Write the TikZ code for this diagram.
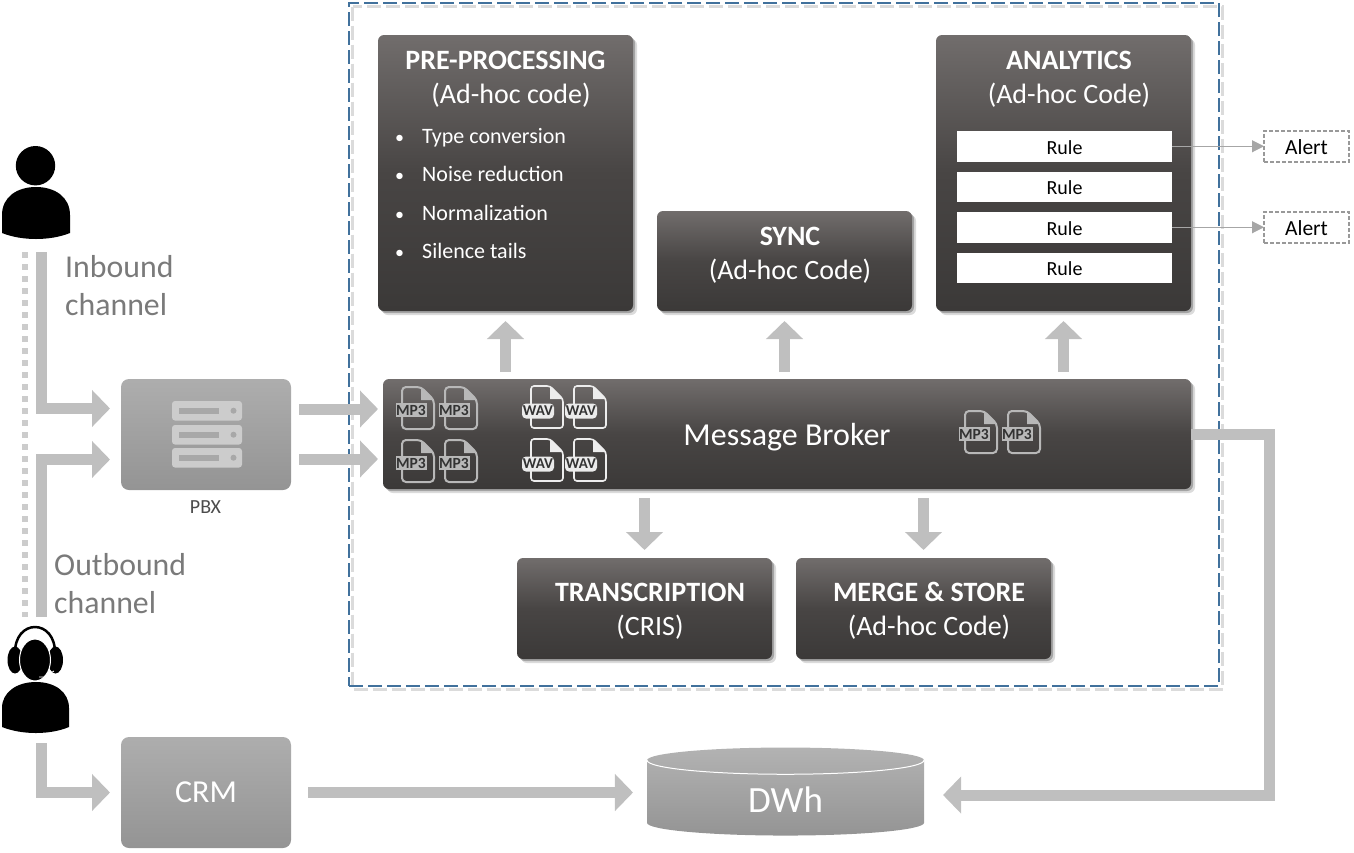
\documentclass[tikz,border=0pt]{standalone}
\usepackage{fontspec}
\setmainfont{Carlito}
\usetikzlibrary{arrows.meta,positioning,calc,shadows,shapes.geometric}
\definecolor{framecol}{HTML}{41719C}
\definecolor{arrgray}{HTML}{BFBFBF}
\definecolor{labgray}{HTML}{7A7A7A}
\definecolor{darktop}{HTML}{716D6C}
\definecolor{darkmid}{HTML}{484544}
\definecolor{darkbot}{HTML}{3B3938}
\newcommand{\fsz}[1]{\fontsize{#1}{#1}\selectfont}
\newcommand{\bul}{\makebox[27pt][l]{\fsz{18}•}}

\begin{document}
\begin{tikzpicture}[x=1pt,y=-1pt,
 softshadow/.style={drop shadow={shadow xshift=2pt,shadow yshift=-2pt,opacity=.25,fill=black},drop shadow={shadow xshift=4pt,shadow yshift=-4pt,opacity=.14,fill=black}},
 darkbox/.style={rectangle,rounded corners=6pt,anchor=north west,inner sep=0pt,outer sep=0pt,softshadow,top color=darktop,bottom color=darkbot,middle color=darkmid,text=white},
 greybox/.style={rectangle,rounded corners=8pt,anchor=north west,inner sep=0pt,outer sep=0pt,minimum width=170pt,minimum height=111pt,top color=black!32,bottom color=black!42,text=white,font=\fsz{32}},
 boxtitle/.style={anchor=north,align=center,text=white,inner sep=0pt,font=\fsz{28},text height=20pt,text depth=7pt},
 itemtext/.style={anchor=base west,text=white,inner sep=0pt,font=\fsz{22}},
 rulebox/.style={rectangle,fill=white,inner sep=0pt,outer sep=0pt,minimum width=215pt,minimum height=30.5pt,font=\fsz{20},text=black,text height=16pt,text depth=0pt},
 alertbox/.style={rectangle,draw=black!40,dash pattern=on 4pt off 2pt,line width=1.5pt,fill=white,inner sep=0pt,outer sep=0pt,minimum width=85pt,minimum height=31pt,font=\fsz{21.5},text=black,text height=16pt,text depth=0pt},
 bigarr/.style={-{Triangle[length=18pt,width=36pt]},line width=11pt,draw=arrgray},
 thinarr/.style={-{Triangle[length=12pt,width=12pt]},line width=1pt,draw=black!35},
 pics/mpfile/.style={code={
  \draw[black!28,line width=2pt,rounded corners=4pt] (0,0) -- (19,0) -- (32,13) -- (32,42) -- (0,42) -- cycle;
  \fill[black!28] (19,0) -- (32,13) -- (19,13) -- cycle;
  \node[rectangle,fill=black!28,text=black!80,inner sep=0pt,minimum width=31pt,minimum height=14pt,font=\fsz{15.5}\bfseries] (-tag) at (9,23) {MP3};
 }},
 pics/wavfile/.style={code={
  \draw[black!7,line width=1.6pt,rounded corners=3pt] (0,0) -- (19,0) -- (32,13) -- (32,42) -- (0,42) -- cycle;
  \fill[black!7] (19,0) -- (32,13) -- (19,13) -- cycle;
  \node[rectangle,rounded corners=4pt,fill=black!8,text=black!80,inner sep=0pt,minimum width=32pt,minimum height=15pt,font=\fsz{15}\bfseries] (-tag) at (7,25) {WAV};
 }}]
\useasboundingbox (0,0) rectangle (1354,852);

% dashed frame
\draw[black!14,line width=3pt,dash pattern=on 14pt off 5pt] (352.5,6.5) rectangle (1222.5,689.5);
\node[rectangle,draw=framecol,line width=1.5pt,dash pattern=on 14pt off 5pt,anchor=north west,inner sep=0pt,outer sep=0pt,minimum width=870pt,minimum height=683pt] (frame) at (349,3) {};

% top row
\node[darkbox,minimum width=255pt,minimum height=276pt] (pre) at (378,35) {};
\node[darkbox,minimum width=255pt,minimum height=100pt] (sync) at (657,211) {};
\node[darkbox,minimum width=255pt,minimum height=276pt] (ana) at (936,35) {};
\node[darkbox,minimum width=808pt,minimum height=110pt,font=\fsz{32},text height=22pt,text depth=0pt] (broker) at (383,379) {Message Broker};
\node[darkbox,minimum width=255pt,minimum height=101pt] (trans) at (517,558) {};
\node[darkbox,minimum width=255pt,minimum height=101pt] (merge) at (796,558) {};

\node[boxtitle] (pretitle) at (505.5,49) {\bfseries PRE-PROCESSING};
\node[boxtitle,below=7pt of pretitle,xshift=5.5pt] (presub) {(Ad-hoc code)};
\node[boxtitle,xshift=5.5pt] (synctitle) at (784.5,225) {\bfseries SYNC};
\node[boxtitle,below=7pt of synctitle] (syncsub) {(Ad-hoc Code)};
\node[boxtitle,xshift=5.5pt] (anatitle) at (1063.5,49) {\bfseries ANALYTICS};
\node[boxtitle,below=7pt of anatitle] (anasub) {(Ad-hoc Code)};
\node[boxtitle,xshift=5.5pt] (transtitle) at (644.5,581) {\bfseries TRANSCRIPTION};
\node[boxtitle,below=7pt of transtitle] (transsub) {(CRIS)};
\node[boxtitle,xshift=5.5pt] (mergetitle) at (923.5,581) {\bfseries MERGE \& STORE};
\node[boxtitle,below=7pt of mergetitle] (mergesub) {(Ad-hoc Code)};

\node[itemtext] (it1) at (395,143) {\bul Type conversion};
\node[itemtext] (it2) at (395,181) {\bul Noise reduction};
\node[itemtext] (it3) at (395,220) {\bul Normalization};
\node[itemtext] (it4) at (395,258) {\bul Silence tails};

\node[rulebox,anchor=north west] (rule1) at (957,131) {Rule};
\node[rulebox,below=10pt of rule1] (rule2) {Rule};
\node[rulebox,below=10pt of rule2] (rule3) {Rule};
\node[rulebox,below=10pt of rule3] (rule4) {Rule};
\node[alertbox,right=92pt of rule1] (alert1) {Alert};
\node[alertbox,right=92pt of rule3] (alert2) {Alert};
\draw[thinarr] (rule1)--(alert1);
\draw[thinarr] (rule3)--(alert2);

% file icons on the broker
\pic (mpa) at (402,387) {mpfile};
\pic (mpb) at (445,387) {mpfile};
\pic (mpc) at (402,440) {mpfile};
\pic (mpd) at (445,440) {mpfile};
\pic (wva) at (531,386) {wavfile};
\pic (wvb) at (574,386) {wavfile};
\pic (wvc) at (531,439) {wavfile};
\pic (wvd) at (574,439) {wavfile};
\pic (mpe) at (965,411) {mpfile};
\pic (mpf) at (1008,411) {mpfile};

% left side
\node[greybox] (pbx) at (121,379) {};
\node[anchor=north,inner sep=0pt,text=black!70,font=\fsz{20}] (pbxlab) at (205.5,500) {PBX};
\node[greybox,text height=19pt,text depth=0pt] (crm) at (121,737) {CRM};
\foreach \yy in {401,425,448} {
 \fill[black!20,rounded corners=3pt] (172,\yy) rectangle ++(70,19.5);
 \fill[black!34] (179,\yy+6.5) rectangle ++(40,6.5);
 \fill[black!34] (233.5,\yy+9.7) circle (3pt);
}

\node[cylinder,shape border rotate=90,aspect=.34,cylinder uses custom fill=false,inner sep=0pt,outer sep=0pt,minimum width=277pt,minimum height=88pt,top color=black!30,bottom color=black!42,text=white,font=\fsz{37},text height=28pt,text depth=0pt] (dwh) at (785.5,798) {DWh};
\draw[white,line width=1pt] (dwh.before top) arc[start angle=180,end angle=360,x radius=138.5pt,y radius=14pt];

% people
\fill[black] (35.5,165.7) circle (19.7pt);
\fill[black] (2,233) -- (2,215) .. controls (2,197) and (17,187) .. (36,187) .. controls (55,187) and (70,197) .. (70,215) -- (70,233) .. controls (50,241) and (22,241) .. (2,233) -- cycle;
\fill[black] (15,660) ellipse (7.5pt and 13.5pt);
\fill[black] (55.5,660) ellipse (7.5pt and 13.5pt);
\draw[black,line width=2.5pt] (15,654) .. controls (14,618) and (56,618) .. (55,654);
\filldraw[black,draw=white,line width=1pt] (35,660) ellipse (15.5pt and 21pt);
\draw[white,line width=.8pt] (54,671) -- (44,677) -- (39,677);
\fill[black] (2,727) -- (2,708) .. controls (2,692) and (17,682) .. (36,682) .. controls (55,682) and (69,692) .. (69,708) -- (69,727) .. controls (50,735) and (22,735) .. (2,727) -- cycle;

\node[anchor=north west,inner sep=0pt,text=labgray,align=left,font=\fsz{31.8}] (inlab) at (65,255) {Inbound\\[6pt]channel};
\node[anchor=north west,inner sep=0pt,text=labgray,align=left,font=\fsz{31.8}] (outlab) at (54,553) {Outbound\\[6pt]channel};

% connectors
\coordinate (inA) at (41.5,252);
\coordinate (outA) at (41.5,617);
\coordinate (agA) at (41,743);
\coordinate (dotA) at (25,252);
\coordinate (dotB) at (25,617);
\draw[black!20,line width=6pt,dash pattern=on 6pt off 6pt] (dotA)--(dotB);
\draw[bigarr,shorten >=11pt] (inA) |- ([yshift=26pt]pbx.west);
\draw[bigarr,shorten >=11pt] (outA) |- ([yshift=-25pt]pbx.west);
\draw[bigarr,shorten >=11pt] (agA) |- (crm.west);
\draw[bigarr,shorten <=8pt,shorten >=5pt] ([yshift=25.5pt]pbx.east) -- ([yshift=25pt]broker.west);
\draw[bigarr,shorten <=8pt,shorten >=5pt] ([yshift=-24.5pt]pbx.east) -- ([yshift=-25pt]broker.west);
\draw[bigarr,shorten <=7pt,shorten >=10pt] (broker.north -| pre.south) -- (pre.south);
\draw[bigarr,shorten <=7pt,shorten >=10pt] (broker.north -| sync.south) -- (sync.south);
\draw[bigarr,shorten <=7pt,shorten >=10pt] (broker.north -| ana.south) -- (ana.south);
\draw[bigarr,shorten <=9pt,shorten >=8pt] (broker.south -| trans.north) -- (trans.north);
\draw[bigarr,shorten <=9pt,shorten >=8pt] (broker.south -| merge.north) -- (merge.north);
\draw[bigarr,shorten <=17pt,shorten >=14pt] (crm.east) -- (crm.east -| dwh.west);
\draw[bigarr,shorten >=19pt] (broker.east) -- ++(78,0) |- ([yshift=3pt]dwh.east);
\end{tikzpicture}
\end{document}
